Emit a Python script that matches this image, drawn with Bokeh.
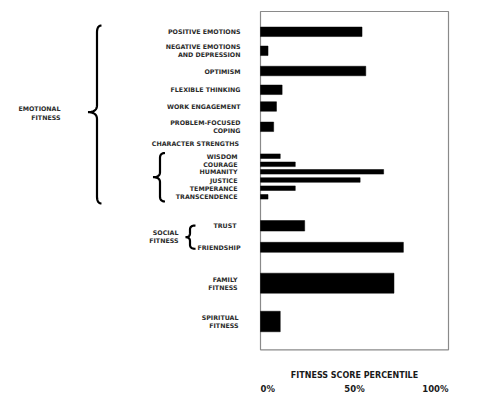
import numpy as np
from bokeh.plotting import figure
from bokeh.models import ColumnDataSource, Range1d
from bokeh.core.properties import value
from bokeh.embed import file_html
from bokeh.resources import INLINE

# data (percentile scores)
categories = ["POSITIVE EMOTIONS", "NEGATIVE EMOTIONS\nAND DEPRESSION", "OPTIMISM",
              "FLEXIBLE THINKING", "WORK ENGAGEMENT", "PROBLEM-FOCUSED\nCOPING",
              "WISDOM", "COURAGE", "HUMANITY", "JUSTICE", "TEMPERANCE", "TRANSCENDENCE",
              "TRUST", "FRIENDSHIP", "FAMILY\nFITNESS", "SPIRITUAL\nFITNESS"]
scores = [54, 4, 56, 11.5, 8.5, 7, 10.5, 18.5, 65.5, 53, 18.5, 4, 23.5, 76, 71, 10.5]
tick_values = [0, 50, 100]
tick_labels = ["0%", "50%", "100%"]
x_title = "FITNESS SCORE PERCENTILE"
sub_header = "CHARACTER STRENGTHS"
groups = ["EMOTIONAL\nFITNESS", "SOCIAL\nFITNESS"]

# layout (page pixels, y grows downwards)
row_y = [31.3, 50.3, 70.5, 89.3, 106, 126.3, 155.7, 163.8, 171.3, 179.5, 187.7, 196.3,
         225.3, 246.8, 282.7, 321]
row_h = [9.5] * 6 + [4.6] * 6 + [10.5, 10] + [20, 20.5]
label_right = [240] * 6 + [237] * 6 + [236, 240, 237, 238]

W, H = 500, 413
X0, X1 = 260, 448          # page px of 0% and 100%
k = (X1 - X0) / 100.0


def ux(px):
    return (px - X0) / k


FONT = value("DejaVu Sans")
TXT = "#2b2b2b"

p = figure(width=W, height=H, output_backend="svg", toolbar_location=None, tools="",
           x_axis_type=None, y_axis_type=None, min_border=0,
           x_range=Range1d(ux(0), ux(W)), y_range=Range1d(H, 0))
p.outline_line_color = None
p.xgrid.visible = False
p.ygrid.visible = False

# frame of the chart
p.quad(left=[tick_values[0]], right=[tick_values[-1]], top=[11], bottom=[349.3],
       fill_color=None, line_color="#8a8a8a", line_width=1.2)

src = ColumnDataSource(dict(cat=categories, score=scores, y=row_y, h=row_h,
                            lx=[ux(v) for v in label_right]))
p.hbar(y="y", left=0, right="score", height="h", source=src,
       fill_color="black", line_color="black", line_width=0.5)

p.text(x="lx", y="y", text="cat", source=src, text_align="right",
       text_baseline="middle", text_font=FONT, text_font_size="6.3px",
       text_font_style="bold", text_color=TXT, text_line_height=1.15)

p.text(x=[ux(238.5)], y=[143.3], text=[sub_header], text_align="right",
       text_baseline="middle", text_font=FONT, text_font_size="6.3px",
       text_font_style="bold", text_color=TXT)

p.text(x=[ux(60), ux(178)], y=[112.5, 236], text=groups, text_align="right",
       text_baseline="middle", text_font=FONT, text_font_size="6.3px",
       text_font_style="bold", text_color=TXT, text_line_height=1.2)

# x axis title and tick labels, under the frame
p.text(x=[50], y=[374.7], text=[x_title], text_align="center", text_baseline="middle",
       text_font=FONT, text_font_size="8px", text_font_style="bold", text_color="#1a1a1a")
p.text(x=tick_values, y=[388.5] * 3, text=tick_labels,
       text_align=["left", "center", "right"], text_baseline="middle",
       text_font=FONT, text_font_size="8.5px", text_font_style="bold", text_color="#1a1a1a")


def quad_pts(a, c, b, n=12):
    t = np.linspace(0, 1, n)[:, None]
    return (1 - t) ** 2 * np.array(a) + 2 * (1 - t) * t * np.array(c) + t ** 2 * np.array(b)


def brace(x_tip, x_spine, x_end, y_top, y_tip, y_bot, r):
    parts = [
        quad_pts((x_end, y_top), (x_spine, y_top), (x_spine, y_top + r)),
        quad_pts((x_spine, y_tip - r), (x_spine, y_tip), (x_tip, y_tip)),
        quad_pts((x_tip, y_tip), (x_spine, y_tip), (x_spine, y_tip + r)),
        quad_pts((x_spine, y_bot - r), (x_spine, y_bot), (x_end, y_bot)),
    ]
    pts = np.vstack(parts)
    p.line([ux(v) for v in pts[:, 0]], pts[:, 1], line_color="black", line_width=2.2)


brace(87.5, 96.5, 101, 25, 111.7, 203, 7)
brace(152.5, 159.5, 164.5, 152.5, 176.7, 201, 5)
brace(185, 189.5, 195, 225, 236.7, 248.3, 4)

open("out.html", "w").write(file_html(p, INLINE))
